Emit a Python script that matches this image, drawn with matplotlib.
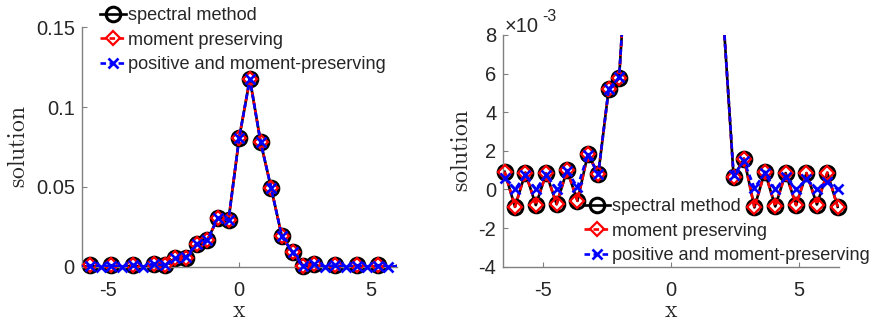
import numpy as np
import matplotlib
matplotlib.use("Agg")
import matplotlib.pyplot as plt
from matplotlib.ticker import FuncFormatter

# ---------------- data ----------------
x_grid = [-6.5, -6.09375, -5.6875, -5.28125, -4.875, -4.46875, -4.0625, -3.65625,
          -3.25, -2.84375, -2.4375, -2.03125, -1.625, -1.21875, -0.8125, -0.40625,
          0.0, 0.40625, 0.8125, 1.21875, 1.625, 2.03125, 2.4375, 2.84375,
          3.25, 3.65625, 4.0625, 4.46875, 4.875, 5.28125, 5.6875, 6.09375, 6.5]

spectral = [0.00092, -0.00090, 0.00087, -0.00081, 0.00083, -0.00076, 0.00100, -0.00059,
            0.00183, 0.00080, 0.00519, 0.00575, 0.0145, 0.0165, 0.0305, 0.0292,
            0.0808, 0.1176, 0.0784, 0.0492, 0.0190, 0.0090, 0.00065, 0.00160,
            -0.00093, 0.00092, -0.00088, 0.00085, -0.00081, 0.00085, -0.00078, 0.00087, -0.00090]

moment = [0.00092, -0.00090, 0.00087, -0.00081, 0.00083, -0.00076, 0.00100, -0.00059,
          0.00183, 0.00080, 0.00519, 0.00575, 0.0145, 0.0165, 0.0305, 0.0292,
          0.0808, 0.1176, 0.0784, 0.0492, 0.0190, 0.0090, 0.00065, 0.00160,
          -0.00093, 0.00092, -0.00088, 0.00085, -0.00081, 0.00085, -0.00078, 0.00087, -0.00090]

positive = [0.00060, 0.0, 0.00075, 0.0, 0.00075, 0.00002, 0.00097, 0.00012,
            0.00180, 0.00080, 0.00520, 0.00580, 0.0145, 0.0165, 0.0305, 0.0292,
            0.0808, 0.1176, 0.0784, 0.0492, 0.0190, 0.0090, 0.00075, 0.00145,
            0.00008, 0.00083, 0.0, 0.00066, 0.0, 0.00053, 0.0, 0.00038, 0.0]

labels = ["spectral method", "moment preserving", "positive and moment-preserving"]

left_yticks = [0, 0.05, 0.1, 0.15]
left_yticklabels = ["0", "0.05", "0.1", "0.15"]
right_yticks = [-0.004, -0.002, 0.0, 0.002, 0.004, 0.006, 0.008]
xticks = [-5, 0, 5]

# ---------------- style ----------------
plt.rcParams["font.family"] = ["Liberation Sans", "DejaVu Sans"]
plt.rcParams["mathtext.fontset"] = "cm"
plt.rcParams["lines.scale_dashes"] = False

W, H = 874, 324
fig = plt.figure(figsize=(W / 100, H / 100), dpi=100)

def px_axes(l, r, t, b):
    return fig.add_axes([l / W, 1 - b / H, (r - l) / W, (b - t) / H])

ax1 = px_axes(81.7, 396.7, 27.3, 266.7)
ax2 = px_axes(503.3, 839.0, 35.0, 266.7)

x = np.array(x_grid)
series = [
    (np.array(spectral), "black", "-", None, "o", 10.5, 2.2),
    (np.array(moment), "red", "--", (4, 2.5), "D", 7.2, 1.6),
    (np.array(positive), "blue", "--", (4, 2.5), "x", 6.5, 1.9),
]

def draw(ax, xlim, ylim):
    ax.set_xlim(*xlim)
    ax.set_ylim(*ylim)
    handles = []
    eps = 1e-9
    for i, (ys, col, ls, dash, mk, ms, mew) in enumerate(series):
        z = 2 + i
        kw = dict(color=col, lw=1.9, zorder=z)
        if dash is not None:
            kw["dashes"] = dash
        ln, = ax.plot(x, ys, linestyle=ls, **kw)
        m = (x >= xlim[0]) & (x <= xlim[1]) & (ys >= ylim[0] - eps) & (ys <= ylim[1] + eps)
        mkl, = ax.plot(x[m], ys[m], linestyle="none", marker=mk, ms=ms, mfc="none",
                       mec=col, mew=mew, clip_on=False, zorder=z + 0.5)
        handles.append((ln, mkl))
    for s in ["top", "right"]:
        ax.spines[s].set_visible(False)
    for s in ["left", "bottom"]:
        ax.spines[s].set_color("#808080")
        ax.spines[s].set_linewidth(1.0)
    ax.tick_params(direction="in", length=3.5, width=0.8, color="#808080",
                   labelcolor="#262626", labelsize=14.5)
    ax.tick_params(axis="x", pad=10)
    ax.tick_params(axis="y", pad=5)
    ax.set_xticks(xticks)
    ax.set_xticklabels([str(t) for t in xticks])
    return handles

h1 = draw(ax1, (-6.0, 6.0), (0.0, 0.15))
ax1.set_yticks(left_yticks)
ax1.set_yticklabels(left_yticklabels)

h2 = draw(ax2, (-6.55, 6.55), (-0.004, 0.008))
ax2.set_yticks(right_yticks)
ax2.yaxis.set_major_formatter(FuncFormatter(lambda v, p: "%g" % round(v * 1000)))

for ax in (ax1, ax2):
    ax.set_xlabel(r"$\mathrm{x}$", fontsize=17, color="#262626", labelpad=0.5)
    ax.set_ylabel(r"$\mathrm{solution}$", fontsize=17, color="#262626", labelpad=4)

leg_kw = dict(loc="upper left", frameon=False, fontsize=13.1, borderpad=0,
              handlelength=1.45, handletextpad=0.08, labelspacing=0.42,
              borderaxespad=0, numpoints=1, bbox_transform=fig.transFigure)
leg1 = fig.legend(h1, labels, bbox_to_anchor=(100 / W, 1 - 7 / H), **leg_kw)
leg2 = fig.legend(h2, labels, bbox_to_anchor=(584 / W, 1 - 198 / H), **leg_kw)
for lg in (leg1, leg2):
    for t in lg.get_texts():
        t.set_color("#262626")

fig.text(505 / W, 1 - 32 / H, "\u00d710", fontsize=14.5, color="#262626", va="baseline")
fig.text(542 / W, 1 - 21 / H, "-3", fontsize=11.5, color="#262626", va="baseline")

fig.savefig("out.png", dpi=100)
